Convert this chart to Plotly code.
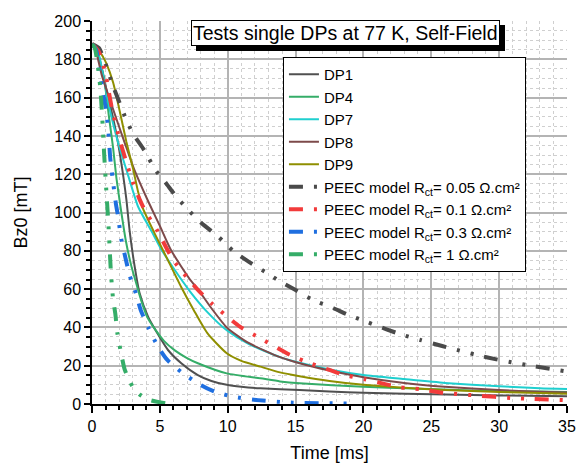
import plotly.graph_objects as go

# ---- data (time in ms, Bz0 in mT) ----
dp1_t = [0, 0.4, 0.8, 1.1, 1.5, 1.85, 2.2, 2.53, 2.78, 3.14, 3.51, 4.13, 4.74, 5.6, 6.58, 7.8, 8.8, 9.93, 11, 12.4, 15.3, 17.5, 20, 26.1, 30, 35]
dp1_b = [188, 184, 173, 163, 151, 139, 124, 107, 90, 72, 57.8, 45.6, 37.8, 28.2, 21.3, 15.1, 12, 10, 9, 8.2, 7.3, 6.5, 5.9, 4.9, 4.5, 4.0]

dp4_t = [0, 0.3, 0.6, 0.93, 1.25, 1.55, 1.8, 2.1, 2.5, 2.9, 3.3, 3.63, 4.1, 4.6, 5.3, 6.1, 7.0, 7.8, 9.93, 12.4, 13.85, 15.3, 20, 23.7, 28, 33, 35]
dp4_b = [188, 186, 178, 168, 150, 134, 118, 103, 85, 72, 62, 54, 45, 39.5, 33, 28, 24, 21.3, 16, 13.4, 11.8, 10.8, 9, 8.1, 7, 6.5, 6.3]

dp7_t = [0, 0.4, 1.0, 1.33, 1.94, 2.68, 3.4, 4.4, 5.0, 6.0, 7.2, 8.5, 9.93, 11.5, 13.85, 15.3, 17.5, 20, 23, 26, 30, 33, 35]
dp7_b = [188, 185, 165, 153, 136, 119, 103, 90, 82, 71, 59, 48, 38.5, 31.5, 24.5, 21.5, 18, 15.1, 13, 11, 9.3, 8.2, 7.8]

dp8_t = [0, 0.3, 0.71, 1.5, 2.43, 3.14, 4.13, 5.0, 5.85, 7.22, 7.8, 8.8, 9.93, 11.5, 13.85, 15.3, 17.5, 20, 23, 26, 30, 33, 35]
dp8_b = [188, 184, 172, 155, 136, 122, 106, 93, 80, 65, 60, 50, 40, 32, 24.5, 21.3, 17.5, 14, 11, 9, 7.3, 6.4, 6.0]

dp9_t = [0, 0.4, 0.83, 1.05, 1.55, 2.04, 2.53, 3.02, 3.39, 3.76, 4.62, 5.6, 6.58, 7.5, 8.5, 9.93, 11, 12.4, 13.85, 15.3, 17.5, 20, 23, 26, 30, 33, 35]
dp9_b = [188, 186, 181, 178, 168, 153, 137, 123, 111, 102, 89, 75, 61, 49, 37, 26.5, 22.5, 19.5, 16.5, 14.5, 12, 10, 8.5, 7.3, 6.3, 5.7, 5.4]

p005_t = [0, 0.5, 1.08, 1.5, 1.94, 2.55, 3.04, 3.9, 4.64, 5.38, 6.24, 7.22, 8.08, 9.3, 10.4, 11.4, 12.75, 14, 15, 16.3, 17.8, 18.8, 20.2, 21.7, 22.7, 24.2, 25.8, 26.75, 28.35, 29.8, 30.9, 32.5, 35]
p005_b = [188, 186, 176, 167, 159, 148, 141, 132, 122.5, 116, 108, 100.4, 94.4, 87.4, 80, 75, 69, 63.4, 59.5, 54.3, 50, 46.8, 43, 39, 36.5, 33.4, 30.3, 28.5, 25.6, 23.3, 21.8, 19.8, 17]

p01_t = [0, 0.5, 1.0, 1.5, 2.0, 2.5, 3.0, 3.5, 3.9, 4.77, 6.0, 7.7, 8.8, 10.9, 12.4, 14.6, 16.1, 17.5, 18.6, 20.1, 21.6, 22.7, 24.2, 25.8, 28.4, 31, 32.5, 35]
p01_b = [188, 184, 172, 153, 139, 127, 116, 107, 101, 91, 75, 60.4, 52.6, 40.4, 34.3, 25.6, 21.2, 17.8, 15.1, 12.9, 10.4, 8.7, 7.7, 5.9, 4.4, 3.1, 2.6, 2.0]

p03_t = [0, 0.3, 0.55, 0.8, 1.0, 1.2, 1.35, 1.57, 1.75, 1.92, 2.16, 2.41, 2.78, 3.27, 3.59, 4.18, 4.86, 5.55, 6.7, 8.0, 9.06, 10.4, 12.1, 14.8, 19]
p03_b = [188, 185, 174, 163, 155, 143, 128, 115, 105, 98, 86, 78, 67, 57, 49, 39.5, 30, 23, 16, 10, 6.4, 3.8, 2.1, 0.7, 0.3]

p1_t = [0, 0.2, 0.4, 0.6, 0.75, 0.9, 1.05, 1.2, 1.4, 1.55, 1.72, 1.87, 2.16, 2.41, 3.0, 3.5, 4.25, 5.4]
p1_b = [188, 186, 178, 166, 150, 130, 112, 95, 68, 55, 47, 37, 26, 18, 9, 5, 2.1, 0.4]

names = ["DP1", "DP4", "DP7", "DP8", "DP9",
         "PEEC model R<sub>ct</sub>= 0.05 \u03a9.cm\u00b2",
         "PEEC model R<sub>ct</sub>= 0.1 \u03a9.cm\u00b2",
         "PEEC model R<sub>ct</sub>= 0.3 \u03a9.cm\u00b2",
         "PEEC model R<sub>ct</sub>= 1 \u03a9.cm\u00b2"]
xs = [dp1_t, dp4_t, dp7_t, dp8_t, dp9_t, p005_t, p01_t, p03_t, p1_t]
ys = [dp1_b, dp4_b, dp7_b, dp8_b, dp9_b, p005_b, p01_b, p03_b, p1_b]
colors = ["#505050", "#35ad68", "#1fcfcf", "#7d4a4a", "#8f8f00",
          "#4a4a4a", "#f23b3b", "#1f6fe0", "#35ad68"]

FONT = "Liberation Sans, Arial, sans-serif"
PEEC_DASH = "14px,11px,3px,11px,3px,11px"

fig = go.Figure()
for i in range(9):
    peec = i >= 5
    fig.add_trace(go.Scatter(
        x=xs[i], y=ys[i], name=names[i], mode="lines",
        line=dict(color=colors[i], width=4 if peec else 2,
                  dash=PEEC_DASH if peec else "solid",
                  shape="spline", smoothing=0.6),
    ))

fig.update_layout(
    width=580, height=463,
    margin=dict(l=92, r=13, t=21, b=59, autoexpand=False),
    paper_bgcolor="white", plot_bgcolor="white",
    font=dict(family=FONT, size=16, color="black"),
    showlegend=True,
    legend=dict(x=0.402, y=0.906, xanchor="left", yanchor="top",
                bgcolor="white", bordercolor="black", borderwidth=1,
                font=dict(family=FONT, size=15, color="black"),
                tracegroupgap=0),
)

fig.update_xaxes(
    range=[0, 35], tick0=0, dtick=5, automargin=False,
    showline=True, linecolor="black", linewidth=1.5, mirror=False,
    ticks="outside", ticklen=7, tickwidth=1.5, tickcolor="black",
    showgrid=True, gridcolor="#b4b4b4", gridwidth=1.5,
    zeroline=False,
    title=dict(text="Time [ms]", font=dict(size=18), standoff=12),
    tickfont=dict(size=16),
    minor=dict(dtick=1, ticks="outside", ticklen=4, tickcolor="black",
               showgrid=True, gridcolor="#cfcfcf", griddash="dot", gridwidth=1),
)
fig.update_yaxes(
    range=[0, 200], tick0=0, dtick=20, automargin=False,
    showline=True, linecolor="black", linewidth=1.5, mirror=False,
    ticks="outside", ticklen=6, tickwidth=1.5, tickcolor="black",
    showgrid=True, gridcolor="#b4b4b4", gridwidth=1.5,
    zeroline=False,
    title=dict(text="Bz0 [mT]", font=dict(size=18), standoff=22),
    tickfont=dict(size=16),
    minor=dict(dtick=5, ticks="outside", ticklen=4, tickcolor="black",
               showgrid=True, gridcolor="#cfcfcf", griddash="dot", gridwidth=1),
)

title_text = "Tests single DPs at 77 K, Self-Field"
# shadow
fig.add_annotation(x=0.533, y=0.969, xref="paper", yref="paper",
                   xanchor="center", yanchor="middle",
                   text=title_text, showarrow=False,
                   font=dict(family=FONT, size=19.5, color="black"),
                   bgcolor="black", bordercolor="black", borderwidth=1,
                   borderpad=1, xshift=5, yshift=-5)
fig.add_annotation(x=0.533, y=0.969, xref="paper", yref="paper",
                   xanchor="center", yanchor="middle",
                   text=title_text, showarrow=False,
                   font=dict(family=FONT, size=19.5, color="black"),
                   bgcolor="white", bordercolor="black", borderwidth=1,
                   borderpad=1)

fig.write_html("out.html")
